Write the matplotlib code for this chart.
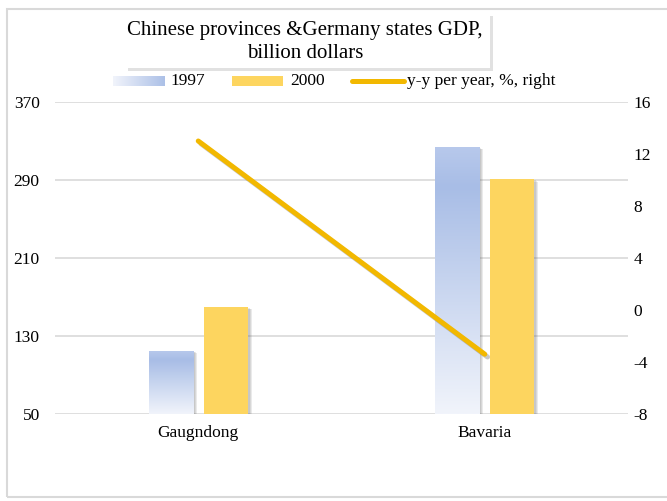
import numpy as np
import matplotlib
matplotlib.use("Agg")
import matplotlib.pyplot as plt
import matplotlib.patches as mpatches
import matplotlib.patheffects as pe
from matplotlib.colors import LinearSegmentedColormap

plt.rcParams["font.family"] = ["Liberation Serif", "DejaVu Serif"]
plt.rcParams["axes.unicode_minus"] = False

# Data
categories = ["Gaugndong", "Bavaria"]
gdp_1997 = [115, 324]
gdp_2000 = [160, 291]
yy_growth = [13.0, -3.4]

left_ticks = [50, 130, 210, 290, 370]
right_ticks = [-8, -4, 0, 4, 8, 12, 16]

title = "Chinese provinces &Germany states GDP,\nbillion dollars"

W, H = 667, 501
fig = plt.figure(figsize=(W / 100, H / 100), dpi=100)


def fx(px):
    return px / W


def fy(py):
    return 1 - py / H


# outer chart frame
fig.add_artist(mpatches.Rectangle((fx(7), fy(497)), fx(700), fy(9) - fy(497),
                                  transform=fig.transFigure, fill=False,
                                  ec="#d9d9d9", lw=1.5, zorder=0))

ax = fig.add_axes([fx(55), fy(414), fx(628) - fx(55), fy(102) - fy(414)])
ax2 = ax.twinx()

blue_cmap = LinearSegmentedColormap.from_list(
    "b97", [(0, "#f1f4fb"), (0.85, "#a8bde6"), (1.0, "#b8c9ec")])

x = np.arange(len(categories))
bw = 0.154
off = 0.096

bars97 = ax.bar(x - off, [v - 50 for v in gdp_1997], bw, bottom=50,
                color="none", zorder=3)
bars00 = ax.bar(x + off, [v - 50 for v in gdp_2000], bw, bottom=50,
                color="#fdd55f", zorder=3)

# soft shadows behind bars
for b in list(bars97) + list(bars00):
    x0, y0 = b.get_x(), b.get_y()
    w, h = b.get_width(), b.get_height()
    for i in range(3):
        dx = 0.006 + 0.004 * i
        dy = 1.0 + 0.8 * i
        ax.add_patch(mpatches.Rectangle((x0 + dx, y0), w, h - dy,
                                        fc="#555555", ec="none", alpha=0.12, zorder=2))

# gradient fill for 1997 bars
grad = np.linspace(0, 1, 256).reshape(-1, 1)
for b in bars97:
    x0, y0 = b.get_x(), b.get_y()
    w, h = b.get_width(), b.get_height()
    im = ax.imshow(grad, cmap=blue_cmap, origin="lower", aspect="auto",
                   extent=(x0, x0 + w, y0, y0 + h), zorder=3.5)
    im.set_clip_path(b)

ax.set_xlim(-0.5, 1.5)
ax.set_ylim(50, 370)
ax.set_yticks(left_ticks)
ax.set_xticks(x)
ax.set_xticklabels(categories)
ax.grid(axis="y", color="#d9d9d9", lw=1.2, zorder=0)
ax.set_axisbelow(True)
ax.tick_params(axis="both", length=0, labelsize=12.5, colors="black")
ax.tick_params(axis="y", pad=11)
ax.tick_params(axis="x", pad=8)
for s in ax.spines.values():
    s.set_visible(False)

ax2.plot(x, yy_growth, color="#f2b800", lw=3.6, solid_capstyle="round",
         zorder=5,
         path_effects=[pe.SimpleLineShadow(offset=(2, -2), shadow_color="#666666", alpha=0.35),
                       pe.Normal()])
ax2.set_ylim(-8, 16)
ax2.set_yticks(right_ticks)
ax2.tick_params(axis="y", length=0, labelsize=12.5, pad=4)
for s in ax2.spines.values():
    s.set_visible(False)

# title box with shadow
fig.add_artist(mpatches.Rectangle((fx(128), fy(71)), fx(365), fy(13) - fy(68),
                                  transform=fig.transFigure, fc="#aaaaaa",
                                  ec="none", alpha=0.35, zorder=1))
fig.add_artist(mpatches.Rectangle((fx(125), fy(68)), fx(365), fy(13) - fy(68),
                                  transform=fig.transFigure, fc="white",
                                  ec="none", zorder=2))
fig.text(fx(305), fy(42), title, ha="center", va="center", fontsize=15,
         linespacing=1.3, zorder=3)

# legend drawn by hand
lax = fig.add_axes([fx(113), fy(86), fx(52), fy(76) - fy(86)])
lax.imshow(np.linspace(0, 0.8, 64).reshape(1, -1), cmap=blue_cmap,
           aspect="auto", vmin=0, vmax=1)
lax.axis("off")
fig.text(fx(170), fy(81), "1997", va="center", fontsize=12.5)
fig.add_artist(mpatches.Rectangle((fx(232), fy(86)), fx(51), fy(76) - fy(86),
                                  transform=fig.transFigure, fc="#fdd55f", ec="none"))
fig.text(fx(290), fy(81), "2000", va="center", fontsize=12.5)
fig.add_artist(plt.Line2D([fx(352), fx(404)], [fy(81), fy(81)],
                          transform=fig.transFigure, color="#f2b800", lw=3.6,
                          solid_capstyle="round"))
fig.text(fx(407), fy(81), "y-y per year, %, right", va="center", fontsize=12.5)

fig.savefig("out.png", dpi=100, facecolor="white")
